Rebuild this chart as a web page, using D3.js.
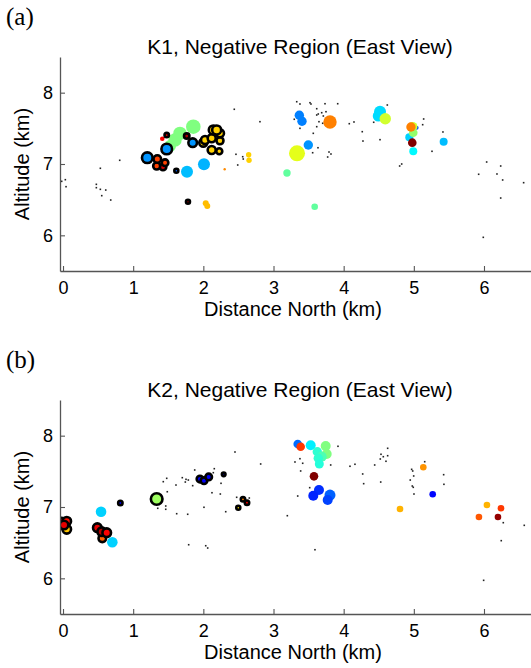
<!DOCTYPE html>
<html>
<head>
<meta charset="utf-8">
<script src="https://cdn.jsdelivr.net/npm/d3@7"></script>
<style>
  body { margin: 0; background: #fff; }
  svg { display: block; }
</style>
</head>
<body>
<div id="root"></div>
<script>
// tick labels
const xTicks = [0, 1, 2, 3, 4, 5, 6];
const yTicks = [6, 7, 8];

// K1 flashes: distance north (km), altitude (km), size, time (0..1 in jet), outlined
const k1X = [1.525, 1.596, 1.667, 1.857, 1.415, 1.478, 1.763, 1.478, 1.201, 1.425, 1.335, 1.454, 1.344, 1.848,
  2.227, 2.119, 1.999, 2.024, 2.119, 2.237, 2.237, 2.142, 2.190,
  2.009, 1.767, 1.615, 1.781, 2.034, 2.056, 2.646, 2.651, 2.304,
  3.368, 3.406, 3.805, 3.496, 3.335, 3.192, 3.587, 4.518, 4.493, 4.593,
  5.040, 4.984, 4.935, 4.992, 4.959, 4.978, 4.992, 5.425];
const k1Alt = [7.252, 7.336, 7.430, 7.523, 7.355, 7.406, 7.392, 7.210, 7.088, 6.958, 6.972, 7.018, 7.070, 7.299,
  7.178, 7.196, 7.299, 7.336, 7.360, 7.326, 7.430, 7.477, 7.477,
  6.996, 6.892, 6.906, 6.471, 6.449, 6.411, 7.130, 7.052, 6.926,
  7.683, 7.599, 7.589, 7.266, 7.150, 6.874, 6.401, 7.733, 7.673, 7.635,
  7.509, 7.523, 7.374, 7.439, 7.519, 7.299, 7.178, 7.313];
const k1Size = [6, 6.7, 6.7, 7.3, 2.3, 2.2, 2.7, 5.3, 5.3, 3.3, 3.5, 3.3, 3.8, 4.3,
  3, 4, 4, 4, 4, 3.5, 4, 4.5, 4.5,
  6, 6, 2, 2, 3, 3, 2.7, 2.7, 1.2,
  4.7, 4.7, 6.7, 4.7, 8, 3.7, 3.3, 6, 5.5, 5.7,
  2, 4.7, 4, 4.3, 4.7, 4.3, 4, 4];
const k1Time = [0.5, 0.5, 0.5, 0.5, 0.88, 0.9, 0.96, 0.27, 0.27, 0.92, 0.81, 0.81, 0.81, 0.27,
  0.67, 0.67, 0.67, 0.67, 0.67, 0.67, 0.67, 0.67, 0.67,
  0.3, 0.31, 0.22, 1.0, 0.69, 0.69, 0.67, 0.67, 0.74,
  0.25, 0.25, 0.75, 0.27, 0.6, 0.47, 0.47, 0.34, 0.34, 0.58,
  0.2, 0.58, 0.33, 0.52, 0.75, 1.0, 0.37, 0.31];
const k1Ring = [0, 0, 0, 0, 0, 1, 1, 1, 1, 1, 1, 1, 1, 1,
  1, 1, 1, 1, 1, 1, 1, 1, 1,
  0, 0, 1, 1, 0, 0, 0, 0, 0,
  0, 0, 0, 0, 0, 0, 0, 0, 0, 0,
  0, 0, 0, 0, 0, 0, 0, 0];

// K1 VHF sources
const k1DotX = [3.331, 3.377, 3.520, 3.534, 3.734, 3.915, 3.616, 3.638, 3.687, 3.748, 3.710, 3.616, 2.807, 3.296,
  3.648, 3.701, 3.616, 3.377, 4.080, 4.147, 4.428, 4.622, 3.567, 4.265, 4.275, 4.518, 3.634, 3.558, 3.791,
  3.819, 3.772, 4.798, 4.827, 5.140, 5.126, 5.259, 5.415, 6.038, 6.238, 5.924, 6.185, 6.266, 6.565, 6.238,
  5.990, 2.441, 2.465, 2.561, 2.569, 2.490, 0.808, 0.532, 0.033, -0.019, 0.043, 0.475, 0.475, 0.532, 0.609,
  0.552, 0.680];
const k1DotAlt = [7.873, 7.841, 7.859, 7.841, 7.845, 7.845, 7.775, 7.701, 7.719, 7.733, 7.673, 7.687, 7.593, 7.627,
  7.593, 7.571, 7.523, 7.500, 7.565, 7.589, 7.585, 7.827, 7.430, 7.453, 7.322, 7.341, 7.228, 7.158, 7.168,
  7.140, 7.098, 6.972, 7.000, 7.631, 7.551, 7.178, 7.449, 7.028, 6.972, 6.856, 6.860, 6.776, 6.738, 6.523,
  5.972, 7.767, 7.136, 7.102, 7.070, 6.986, 7.052, 6.940, 6.780, 6.757, 6.682, 6.715, 6.668, 6.645, 6.635,
  6.556, 6.495];

// K2 flashes
const k2X = [0.053, -0.019, 0.053, 0.014, 0.489, 0.560, 0.552, 0.623, 0.542, 0.703, 0.817, 1.335,
  1.952, 2.009, 2.076, 2.290, 2.565, 2.622, 2.498,
  3.345, 3.387, 3.530, 3.744, 3.624, 3.758, 3.687, 3.638, 3.653, 3.577, 3.648, 3.567, 3.805, 3.772,
  5.135, 5.269, 4.803, 6.042, 6.242, 5.928, 6.199];
const k2Alt = [6.687, 6.780, 6.800, 6.748, 6.710, 6.561, 6.654, 6.640, 6.934, 6.505, 7.056, 7.112,
  7.392, 7.369, 7.421, 7.458, 7.108, 7.060, 6.990,
  7.883, 7.845, 7.865, 7.855, 7.775, 7.743, 7.705, 7.683, 7.603, 7.430, 7.238, 7.158, 7.168, 7.098,
  7.557, 7.178, 6.972, 7.028, 6.982, 6.860, 6.860];
const k2Size = [4.3, 4.8, 4.3, 4.3, 4.3, 3.8, 4.3, 4.3, 5.3, 5.3, 2.2, 5.8,
  3.3, 3.3, 3.3, 1.8, 2.2, 2.2, 2,
  4.3, 4.3, 5, 5, 4.7, 5, 5, 4.7, 4.5, 4.3, 5, 5, 5.5, 5,
  3.3, 3.3, 3.3, 3.3, 3.3, 3.3, 3.3];
const k2Time = [0.68, 0.88, 0.86, 0.9, 0.9, 0.78, 0.95, 0.88, 0.33, 0.33, 0.1, 0.53,
  0.12, 0.12, 0.12, 0.02, 0.75, 0.88, 0.65,
  0.23, 0.82, 0.36, 0.5, 0.42, 0.5, 0.45, 0.42, 0.41, 1.0, 0.17, 0.16, 0.22, 0.19,
  0.73, 0.13, 0.7, 0.7, 0.82, 0.79, 0.98];
const k2Ring = [1, 1, 1, 1, 1, 1, 1, 1, 0, 0, 1, 1,
  1, 1, 1, 1, 1, 1, 1,
  0, 0, 0, 0, 0, 0, 0, 0, 0, 0, 0, 0, 0, 0,
  0, 0, 0, 0, 0, 0, 0];

// K2 VHF sources
const k2DotX = [2.451, 2.817, 2.156, 1.877, 1.478, 1.429, 1.700, 1.753, 1.786, 1.743, 1.610, 1.848, 2.142,
  2.252, 1.486, 2.123, 2.242, 2.475, 2.655, 1.464, 1.464, 1.350, 2.009, 2.319, 1.620, 1.777, 1.791, 2.034,
  2.062, 3.919, 3.306, 3.377, 3.416, 3.387, 3.815, 4.090, 4.161, 4.442, 4.532, 4.565, 4.522, 4.603, 4.627,
  4.627, 4.271, 4.285, 4.528, 3.516, 3.345, 3.197, 3.591, 4.969, 4.984, 4.998, 4.949, 4.978, 4.992, 5.002,
  5.155, 5.425, 5.429, 6.275, 6.574, 6.246, 5.995];
const k2DotAlt = [7.771, 7.603, 7.537, 7.519, 7.402, 7.355, 7.411, 7.388, 7.378, 7.350, 7.308, 7.299, 7.481,
  7.332, 7.214, 7.200, 7.182, 7.136, 7.126, 7.014, 6.968, 6.982, 6.996, 6.934, 6.906, 6.898, 6.471, 6.457,
  6.425, 7.851, 7.631, 7.677, 7.613, 7.505, 7.589, 7.571, 7.599, 7.589, 7.739, 7.705, 7.673, 7.641, 7.823,
  7.719, 7.463, 7.327, 7.350, 7.271, 7.154, 6.878, 6.401, 7.528, 7.505, 7.435, 7.378, 7.294, 7.276, 7.182,
  7.635, 7.453, 7.318, 6.780, 6.743, 6.528, 5.972];

const width = 531;
const height = 668;
const plotLeft = 60;
const plotRight = 531;

// matlab jet
const jet = d3.scaleLinear()
  .domain([0, 0.125, 0.375, 0.625, 0.875, 1])
  .range(['#000080', '#0000ff', '#00ffff', '#ffff00', '#ff0000', '#800000'])
  .clamp(true);

const svg = d3.select('#root').append('svg')
  .attr('width', width)
  .attr('height', height)
  .style('font-family', '"Liberation Sans", Arial, Helvetica, sans-serif');

function drawPanel(opts) {
  const top = opts.top;
  const bottom = opts.top + 214;

  const x = d3.scaleLinear().domain([-0.043, 6.67]).range([plotLeft, plotRight]);
  const y = d3.scaleLinear().domain([5.5, 8.5]).range([bottom, top]);
  const r = d3.scaleLinear().domain([0, 10]).range([0, 10]);

  const g = svg.append('g');

  // panel letter
  g.append('text')
    .attr('x', 6)
    .attr('y', top - 32)
    .style('font-family', '"Liberation Serif", "Times New Roman", serif')
    .style('font-size', '25px')
    .text(opts.letter);

  g.append('text')
    .attr('x', 300)
    .attr('y', top - 3)
    .attr('text-anchor', 'middle')
    .style('font-size', '21px')
    .text(opts.title);

  const clipId = 'clip' + opts.letter.replace(/\W/g, '');
  g.append('clipPath').attr('id', clipId)
    .append('rect')
    .attr('x', plotLeft)
    .attr('y', top - 10)
    .attr('width', plotRight - plotLeft)
    .attr('height', bottom - top + 10);

  const plot = g.append('g').attr('clip-path', `url(#${clipId})`);

  // tiny VHF source dots
  plot.selectAll('rect.src')
    .data(d3.range(opts.dotX.length))
    .join('rect')
    .attr('class', 'src')
    .attr('x', i => x(opts.dotX[i]) - 0.8)
    .attr('y', i => y(opts.dotAlt[i]) - 0.8)
    .attr('width', 1.6)
    .attr('height', 1.6)
    .attr('fill', '#222');

  // flashes
  plot.selectAll('circle.flash')
    .data(d3.range(opts.fx.length))
    .join('circle')
    .attr('class', 'flash')
    .attr('cx', i => x(opts.fx[i]))
    .attr('cy', i => y(opts.falt[i]))
    .attr('r', i => r(opts.fsize[i]))
    .attr('fill', i => jet(opts.ftime[i]))
    .attr('stroke', i => opts.fring[i] ? '#000' : 'none')
    .attr('stroke-width', 2.6);

  // axes (matlab style, inward ticks)
  const xAxis = g.append('g')
    .attr('transform', `translate(0,${bottom})`)
    .call(d3.axisBottom(x).tickValues(xTicks).tickFormat(d3.format('d'))
      .tickSize(-5).tickPadding(10).tickSizeOuter(0));
  const yAxis = g.append('g')
    .attr('transform', `translate(${plotLeft},0)`)
    .call(d3.axisLeft(y).tickValues(yTicks).tickFormat(d3.format('d'))
      .tickSize(-5).tickPadding(7).tickSizeOuter(0));

  [xAxis, yAxis].forEach(a => {
    a.select('.domain').attr('stroke', '#555').attr('stroke-width', 1.3);
    a.selectAll('.tick line').attr('stroke', '#555').attr('stroke-width', 1.1);
    a.selectAll('.tick text')
      .attr('fill', '#000')
      .style('font-size', '18px')
      .style('font-family', '"Liberation Sans", Arial, Helvetica, sans-serif');
  });

  g.append('text')
    .attr('x', 293)
    .attr('y', bottom + 45)
    .attr('text-anchor', 'middle')
    .style('font-size', '20px')
    .text('Distance North (km)');

  g.append('text')
    .attr('transform', `translate(29,${(top + bottom) / 2}) rotate(-90)`)
    .attr('text-anchor', 'middle')
    .style('font-size', '20px')
    .text('Altitude (km)');
}

drawPanel({
  top: 57, letter: '(a)', title: 'K1, Negative Region (East View)',
  fx: k1X, falt: k1Alt, fsize: k1Size, ftime: k1Time, fring: k1Ring,
  dotX: k1DotX, dotAlt: k1DotAlt
});

drawPanel({
  top: 400, letter: '(b)', title: 'K2, Negative Region (East View)',
  fx: k2X, falt: k2Alt, fsize: k2Size, ftime: k2Time, fring: k2Ring,
  dotX: k2DotX, dotAlt: k2DotAlt
});
</script>
</body>
</html>
